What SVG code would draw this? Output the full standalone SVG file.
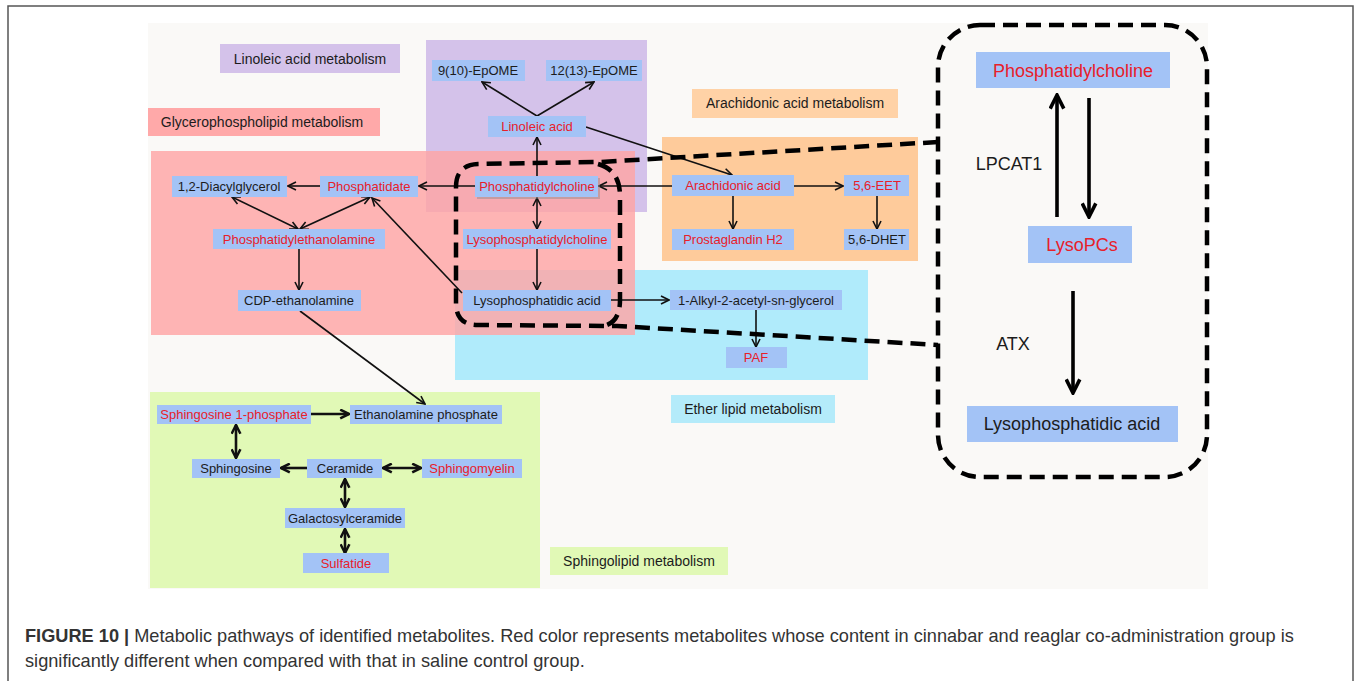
<svg xmlns="http://www.w3.org/2000/svg" width="1358" height="681" viewBox="0 0 1358 681">
<style>
.n{fill:#A3C3F6}
.t{font-family:"Liberation Sans",Arial,sans-serif;font-size:13px;text-anchor:middle;fill:#1c1c1c}
.r{fill:#E8202A}
.lb{font-size:14px}
.bg{font-size:18px}
.c{stroke:#111;stroke-width:1.6;fill:none;marker-end:url(#a)}
.d{marker-start:url(#a)}
.k{stroke:#111;stroke-width:2.6;fill:none;marker-end:url(#b)}
.kd{marker-start:url(#b)}
.K{stroke:#000;stroke-width:3.6;fill:none;marker-end:url(#c)}
.dash{stroke:#000;stroke-width:4.5;stroke-dasharray:15 8;fill:none}
.cap{font-family:"Liberation Sans",Arial,sans-serif;font-size:18.2px;fill:#333}
</style>
<defs>
<marker id="a" viewBox="0 0 10 10" refX="9" refY="5" markerWidth="10" markerHeight="10" markerUnits="userSpaceOnUse" orient="auto-start-reverse"><path d="M1,1 L9,5 L1,9" fill="none" stroke="#111" stroke-width="1.6"/></marker>
<marker id="b" viewBox="0 0 10 10" refX="9" refY="5" markerWidth="11" markerHeight="11" markerUnits="userSpaceOnUse" orient="auto-start-reverse"><path d="M1,1 L9,5 L1,9" fill="none" stroke="#111" stroke-width="2.3"/></marker>
<marker id="c" viewBox="0 0 10 10" refX="9" refY="5" markerWidth="17" markerHeight="17" markerUnits="userSpaceOnUse" orient="auto-start-reverse"><path d="M1,1 L9,5 L1,9" fill="none" stroke="#000" stroke-width="2.1"/></marker>
</defs>
<rect x="0" y="0" width="1358" height="681" fill="#fff"/>
<rect x="8" y="6" width="1345" height="700" fill="#fff" stroke="#555" stroke-width="1.5"/>
<rect x="148" y="23" width="1060" height="566" fill="#FAF9F7"/>

<g id="panels">
<rect x="426" y="40" width="221" height="172" fill="#D4C2EA"/>
<rect x="455" y="270" width="413" height="110" fill="#B0EBFB"/>
<rect x="151" y="151" width="484" height="184" fill="#FFA5A5" opacity="0.82"/>
<rect x="662" y="137" width="256" height="124" fill="#FECB9B"/>
<rect x="150" y="392" width="390" height="196" fill="#E1F9B6"/>
</g>

<g id="label-linoleic"><rect x="220" y="44" width="180" height="29" fill="#D4C2EA"/><text class="t lb" x="310" y="64">Linoleic acid metabolism</text></g>
<g id="label-glycero"><rect x="148" y="108" width="232" height="28" fill="#FFA9A9"/><text class="t lb" x="262" y="127">Glycerophospholipid metabolism</text></g>
<g id="label-arachidonic"><rect x="692" y="89" width="206" height="29" fill="#FFD2A6"/><text class="t lb" x="795" y="108">Arachidonic acid metabolism</text></g>
<g id="label-ether"><rect x="671" y="395" width="164" height="28" fill="#B4EBFA"/><text class="t lb" x="753" y="414">Ether lipid metabolism</text></g>
<g id="label-sphingo"><rect x="550" y="547" width="178" height="28" fill="#E1F9B6"/><text class="t lb" x="639" y="566">Sphingolipid metabolism</text></g>

<g id="connectors">
<path class="c" d="M537,116 L482,82"/>
<path class="c" d="M537,116 L594,82"/>
<path class="c" d="M537,176 L537,137"/>
<path class="c" d="M586,127 L732,175"/>
<path class="c" d="M672,186 L599,186"/>
<path class="c" d="M794,186 L843,186"/>
<path class="c" d="M733,196 L733,229"/>
<path class="c" d="M877,196 L877,229"/>
<path class="c" d="M475,186 L419,186"/>
<path class="c" d="M320,186 L288,186"/>
<path class="c d" d="M232,197 L298,229"/>
<path class="c d" d="M370,197 L300,229"/>
<path class="c" d="M299,249 L299,290"/>
<path class="c" d="M462,293 L372,198"/>
<path class="c d" d="M537,198 L537,229"/>
<path class="c" d="M537,249 L537,290"/>
<path class="c" d="M611,300 L669,300"/>
<path class="c" d="M756,310 L756,347"/>
<path class="c" d="M300,311 L425,404"/>
<path class="k" d="M311,414 L349,414"/>
<path class="k kd" d="M236,425 L236,458"/>
<path class="k" d="M307,468 L281,468"/>
<path class="k kd" d="M383,468 L421,468"/>
<path class="k kd" d="M345,479 L345,507"/>
<path class="k kd" d="M345,529 L345,553"/>
<path class="K" d="M1057,217 L1057,95"/>
<path class="K" d="M1089,98 L1089,217"/>
<path class="K" d="M1073,291 L1073,393"/>
<path class="dash" d="M938,142 L600,162 L478,164 Q456,165 456,187 L456,303 Q456,325 478,325 L617,326 L938,345"/>
<path class="dash" d="M598,164 Q620,170 620,196 L620,300 Q620,322 604,326"/>
<rect class="dash" x="938" y="25" width="269" height="452" rx="42"/>
</g>

<g id="n-9epome"><rect class="n" x="432" y="60" width="93" height="21"/><text class="t" x="478" y="75">9(10)-EpOME</text></g>
<g id="n-12epome"><rect class="n" x="546" y="60" width="96" height="21"/><text class="t" x="594" y="75">12(13)-EpOME</text></g>
<g id="n-linoleic"><rect class="n" x="488" y="116" width="98" height="21"/><text class="t r" x="537" y="131">Linoleic acid</text></g>
<g id="n-dag"><rect class="n" x="172" y="176" width="115" height="21"/><text class="t" x="229" y="191">1,2-Diacylglycerol</text></g>
<g id="n-pa"><rect class="n" x="320" y="176" width="98" height="21"/><text class="t r" x="369" y="191">Phosphatidate</text></g>
<g id="n-pc"><rect x="477" y="178" width="123" height="21" fill="#8a8a8a" opacity="0.45"/><rect class="n" x="475" y="176" width="123" height="21"/><text class="t r" x="537" y="191">Phosphatidylcholine</text></g>
<g id="n-pe"><rect class="n" x="213" y="229" width="172" height="20"/><text class="t r" x="299" y="244">Phosphatidylethanolamine</text></g>
<g id="n-lpc"><rect class="n" x="463" y="229" width="148" height="20"/><text class="t r" x="537" y="244">Lysophosphatidylcholine</text></g>
<g id="n-cdp"><rect class="n" x="238" y="290" width="123" height="21"/><text class="t" x="299" y="305">CDP-ethanolamine</text></g>
<g id="n-lpa"><rect class="n" x="463" y="290" width="148" height="21"/><text class="t" x="537" y="305">Lysophosphatidic acid</text></g>
<g id="n-aa"><rect class="n" x="672" y="175" width="122" height="21"/><text class="t r" x="733" y="190">Arachidonic acid</text></g>
<g id="n-eet"><rect class="n" x="844" y="175" width="65" height="21"/><text class="t r" x="877" y="190">5,6-EET</text></g>
<g id="n-pgh2"><rect class="n" x="672" y="229" width="122" height="21"/><text class="t r" x="733" y="244">Prostaglandin H2</text></g>
<g id="n-dhet"><rect class="n" x="844" y="229" width="65" height="21"/><text class="t" x="877" y="244">5,6-DHET</text></g>
<g id="n-alkyl"><rect class="n" x="670" y="290" width="172" height="20"/><text class="t" x="756" y="305">1-Alkyl-2-acetyl-sn-glycerol</text></g>
<g id="n-paf"><rect class="n" x="726" y="347" width="61" height="21"/><text class="t r" x="756" y="362">PAF</text></g>
<g id="n-s1p"><rect class="n" x="157" y="405" width="154" height="19"/><text class="t r" x="234" y="419">Sphingosine 1-phosphate</text></g>
<g id="n-ethp"><rect class="n" x="350" y="405" width="152" height="19"/><text class="t" x="426" y="419">Ethanolamine phosphate</text></g>
<g id="n-sph"><rect class="n" x="192" y="459" width="88" height="19"/><text class="t" x="236" y="473">Sphingosine</text></g>
<g id="n-cer"><rect class="n" x="307" y="459" width="75" height="19"/><text class="t" x="345" y="473">Ceramide</text></g>
<g id="n-sm"><rect class="n" x="422" y="459" width="100" height="19"/><text class="t r" x="472" y="473">Sphingomyelin</text></g>
<g id="n-gal"><rect class="n" x="285" y="508" width="120" height="20"/><text class="t" x="345" y="523">Galactosylceramide</text></g>
<g id="n-sulf"><rect class="n" x="303" y="553" width="86" height="20"/><text class="t r" x="346" y="568">Sulfatide</text></g>

<g id="r-pc"><rect class="n" x="976" y="52" width="194" height="36"/><text class="t bg r" x="1073" y="77">Phosphatidylcholine</text></g>
<g id="r-lysopcs"><rect class="n" x="1028" y="226" width="104" height="37"/><text class="t bg r" x="1082" y="251">LysoPCs</text></g>
<g id="r-lpa"><rect class="n" x="967" y="406" width="211" height="36"/><text class="t bg" x="1072" y="430">Lysophosphatidic acid</text></g>
<text class="t bg" x="1009" y="170">LPCAT1</text>
<text class="t bg" x="1013" y="350">ATX</text>

<text class="cap" x="25" y="642"><tspan font-weight="bold">FIGURE 10 |</tspan> Metabolic pathways of identified metabolites. Red color represents metabolites whose content in cinnabar and reaglar co-administration group is</text>
<text class="cap" x="25" y="667">significantly different when compared with that in saline control group.</text>
</svg>
